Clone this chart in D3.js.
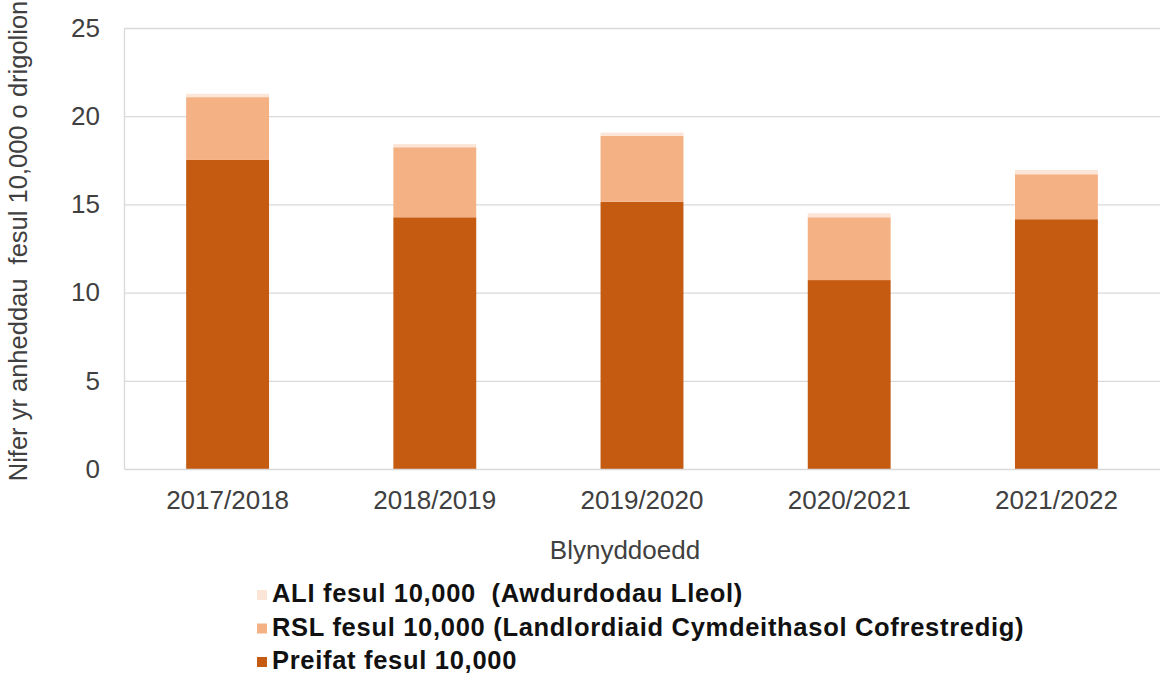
<!DOCTYPE html>
<html>
<head>
<meta charset="utf-8">
<script src="https://cdn.jsdelivr.net/npm/d3@7"></script>
<style>
  body { margin: 0; background: #fff; }
  svg { display: block; font-family: "Liberation Sans", Arial, sans-serif; }
  text { white-space: pre; }
</style>
</head>
<body>
<svg id="chart" width="1160" height="683"></svg>
<script>
const categories = ["2017/2018", "2018/2019", "2019/2020", "2020/2021", "2021/2022"];
const preifat = [17.52, 14.27, 15.15, 10.71, 14.16];
const rsl = [3.56, 3.97, 3.73, 3.56, 2.55];
const ali = [0.19, 0.18, 0.19, 0.23, 0.24];
const yTicks = [0, 5, 10, 15, 20, 25];
const seriesKeys = ["preifat", "rsl", "ali"];
const seriesLabels = {
  ali: "ALI fesul 10,000  (Awdurdodau Lleol)",
  rsl: "RSL fesul 10,000 (Landlordiaid Cymdeithasol Cofrestredig)",
  preifat: "Preifat fesul 10,000"
};
const colors = { preifat: "#c55a11", rsl: "#f4b183", ali: "#fbe5d6" };

const rows = categories.map((c, i) => ({ cat: c, preifat: preifat[i], rsl: rsl[i], ali: ali[i] }));
const stacked = d3.stack().keys(seriesKeys)(rows);

const svg = d3.select("#chart");
const mLeft = 124, mRight = 1160, mTop = 28, mBottom = 469;
const FS = 26;

const x = d3.scaleBand().domain(categories).range([mLeft, mRight]).paddingInner(0.6).paddingOuter(0.3);
const y = d3.scaleLinear().domain([0, 25]).range([mBottom, mTop]);

// gridlines
svg.append("g").selectAll("line").data(yTicks.filter(t => t > 0)).join("line")
  .attr("x1", mLeft).attr("x2", mRight)
  .attr("y1", d => y(d) + 0.5).attr("y2", d => y(d) + 0.5)
  .attr("stroke", "#d9d9d9").attr("stroke-width", 1.3);

// bars
svg.append("g").selectAll("g").data(stacked).join("g")
  .attr("fill", d => colors[d.key])
  .selectAll("rect").data(d => d).join("rect")
  .attr("x", d => x(d.data.cat))
  .attr("width", x.bandwidth())
  .attr("y", d => y(d[1]))
  .attr("height", d => y(d[0]) - y(d[1]));

// y axis
const yAxis = svg.append("g").attr("transform", `translate(${mLeft},0)`)
  .call(d3.axisLeft(y).tickValues(yTicks).tickSize(0).tickPadding(24));
yAxis.select(".domain").attr("stroke", "#d9d9d9").attr("stroke-width", 1.3);
yAxis.selectAll("text").attr("font-size", FS).attr("fill", "#404040")
  .attr("font-family", "Liberation Sans, Arial, sans-serif");

// x axis
const xAxis = svg.append("g").attr("transform", `translate(0,${mBottom})`)
  .call(d3.axisBottom(x).tickSize(0).tickPadding(22));
xAxis.select(".domain").attr("stroke", "#d9d9d9").attr("stroke-width", 1.3);
xAxis.selectAll("text").attr("font-size", FS).attr("fill", "#404040")
  .attr("font-family", "Liberation Sans, Arial, sans-serif");

// axis titles
svg.append("text")
  .attr("transform", `translate(27,241) rotate(-90)`)
  .attr("text-anchor", "middle")
  .attr("font-size", 25.5).attr("fill", "#404040")
  .text("Nifer yr anheddau  fesul 10,000 o drigolion");

svg.append("text")
  .attr("x", 625).attr("y", 559)
  .attr("text-anchor", "middle")
  .attr("font-size", FS).attr("fill", "#404040")
  .text("Blynyddoedd");

// legend
const legendOrder = ["ali", "rsl", "preifat"];
const lg = svg.append("g").selectAll("g").data(legendOrder).join("g")
  .attr("transform", (d, i) => `translate(257,${602 + i * 33.5})`);
lg.append("rect").attr("x", 0).attr("y", -12).attr("width", 10).attr("height", 10)
  .attr("fill", d => colors[d]);
lg.append("text").attr("x", 15).attr("y", 0)
  .attr("font-size", 25.5).attr("font-weight", "bold").attr("fill", "#111")
  .attr("letter-spacing", 0.7)
  .text(d => seriesLabels[d]);
</script>
</body>
</html>
